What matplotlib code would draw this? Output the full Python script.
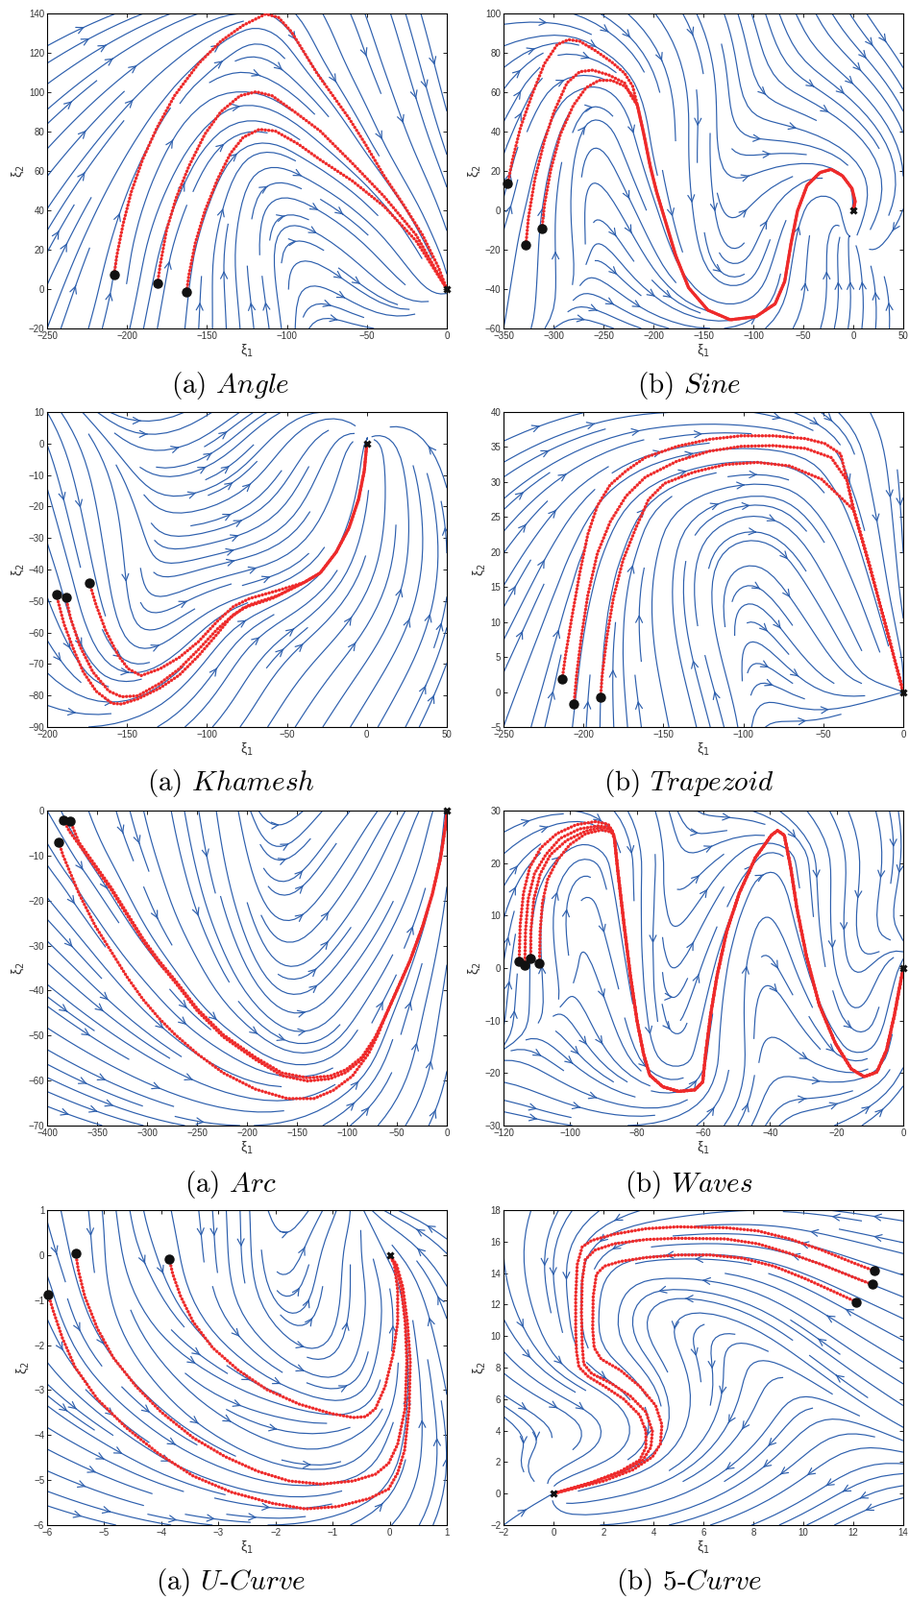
import numpy as np
import matplotlib
matplotlib.use('Agg')
import matplotlib.pyplot as plt

plt.rcParams['font.family'] = ['Liberation Sans', 'DejaVu Sans']
plt.rcParams['mathtext.fontset'] = 'dejavusans'

BLUE = '#2d5fad'
RED = '#ee2a2a'

# ---------------- data (demonstrations) ----------------
# Angle
angle_xlim, angle_ylim = (-250, 0), (-20, 140)
angle_a = [(-208, 7.5), (-206.4, 16.9), (-202.4, 33.2), (-197.3, 49.4), (-190.3, 65.7),
           (-181.3, 81.9), (-170.3, 98.2), (-155.3, 114.5), (-141.3, 125.9), (-127.3, 134.0),
           (-113.3, 139.7), (-105.3, 138.0), (-97.2, 130.7), (-89.2, 120.2), (-81.2, 109.6),
           (-71.2, 98.2), (-61.2, 86.8), (-51.2, 74.0), (-39.2, 57.5), (-27.2, 43.0),
           (-15.2, 27.5), (-5.2, 11.0), (0, 0)]
angle_b = [(-180.9, 2.9), (-179.3, 12.0), (-175.3, 29.9), (-169.3, 46.2), (-161.3, 62.4),
           (-151.3, 78.7), (-141.3, 90.1), (-129.3, 98.2), (-119.3, 100.2), (-109.3, 98.2),
           (-95.3, 90.1), (-79.2, 80.3), (-59.2, 64.0), (-39.2, 47.0), (-19.2, 27.5), (0, 0)]
angle_c = [(-162.7, -1.3), (-161.3, 7.2), (-157.3, 23.4), (-151.3, 39.7), (-143.3, 55.9),
           (-135.3, 68.9), (-127.3, 77.1), (-117.3, 81.1), (-107.3, 80.3), (-93.2, 73.8),
           (-79.2, 65.7), (-59.2, 55.0), (-39.2, 42.0), (-19.2, 24.5), (0, 0)]

# Sine
sine_xlim, sine_ylim = (-350, 50), (-60, 100)
sine_a = [(-345.8, 13.5), (-341, 25.7), (-333, 42), (-321.8, 58.2), (-309, 74.5), (-296.2, 84.2),
          (-285, 86.7), (-273.7, 85.9), (-257.7, 81), (-241.7, 75.3), (-228.8, 69.6), (-220.8, 63.1)]
sine_b = [(-327.6, -17.4), (-325, -3.6), (-318.6, 15.9), (-309, 35.4), (-299.4, 50.1),
          (-286.5, 64.7), (-273.7, 70.4), (-260.9, 71.2), (-244.9, 68.8), (-228.8, 64.7), (-222.4, 58.2)]
sine_c = [(-311.5, -9.4), (-309, 2.9), (-302.6, 20.8), (-293, 38.7), (-280.1, 53.3),
          (-267.3, 62.3), (-254.5, 66.0), (-241.7, 66.0), (-228.8, 63.1), (-220.8, 58.2)]
sine_tail = [(-216, 53.3), (-209.6, 38.7), (-203.2, 22.4), (-196.8, 9.4), (-187.2, -6.8),
             (-177.6, -23.1), (-164.8, -39.3), (-145.5, -50.7), (-123.1, -55.6), (-97.4, -54.0),
             (-78.2, -47.5), (-68.6, -36.1), (-62.2, -16.6), (-55.8, -0.3), (-46.2, 12.7),
             (-33.3, 19.2), (-22.1, 20.8), (-10.9, 17.6), (-1.3, 11.1), (1.9, 4.6), (0, 0)]

# Khamesh
kh_xlim, kh_ylim = (-200, 50), (-90, 10)
kh_a = [(-194.2, -48.0), (-189.4, -57.3), (-183.4, -65.4), (-177.4, -72.5), (-169.4, -78.6),
        (-159.4, -82.5), (-153.4, -82.7), (-143.3, -81.1), (-129.3, -77.6), (-117.3, -73.5),
        (-105.3, -67.4), (-93.3, -60.3), (-85.3, -55.3), (-77.3, -52.2), (-59.3, -49.2)]
kh_b = [(-188.2, -48.9), (-185.4, -55.3), (-179.4, -64.4), (-171.4, -72.5), (-161.4, -78.6),
        (-153.4, -80.4), (-143.3, -80.1), (-129.3, -76.1), (-117.3, -71.5), (-105.3, -65.4),
        (-93.3, -58.8), (-83.3, -54.3), (-73.3, -51.2), (-55.3, -48.2)]
kh_c = [(-173.4, -44.4), (-169.4, -51.2), (-163.4, -59.3), (-155.4, -67.4), (-149.3, -71.5),
        (-141.3, -73.7), (-129.3, -71.5), (-117.3, -67.9), (-105.3, -62.9), (-93.3, -56.3),
        (-83.3, -51.7), (-73.3, -49.2), (-55.3, -46.6)]
kh_tail = [(-39.2, -44.1), (-29.2, -41.1), (-19.2, -34.5), (-11.2, -26.8), (-5.2, -17.7),
           (-1.6, -8.6), (0, 0)]

# Trapezoid
tz_xlim, tz_ylim = (-250, 0), (-5, 40)
tz_a = [(-213.3, 1.8), (-211.3, 5.1), (-207.3, 10.6), (-202.3, 17.0), (-197.3, 22.5),
        (-191.3, 26.6), (-183.3, 29.6), (-173.3, 31.6), (-161.3, 33.5), (-141.3, 35.1),
        (-121.2, 36.1), (-101.2, 36.6), (-81.2, 36.6), (-61.1, 36.2), (-49.1, 35.5),
        (-39.1, 34.0), (-35.5, 30.5)]
tz_b = [(-205.9, -1.7), (-204.3, 2.4), (-201.3, 7.9), (-197.3, 13.8), (-191.3, 19.8),
        (-183.3, 24.3), (-173.3, 28.0), (-161.3, 30.7), (-141.3, 33.0), (-121.2, 34.4),
        (-101.2, 35.1), (-81.2, 35.2), (-61.1, 34.8), (-45.1, 33.5), (-35.1, 30.2)]
tz_c = [(-189.3, -0.8), (-188.3, 2.4), (-185.3, 7.9), (-181.3, 13.4), (-175.3, 18.8),
        (-167.3, 23.4), (-159.3, 27.5), (-149.3, 29.8), (-131.2, 31.4), (-111.2, 32.5),
        (-91.2, 32.8), (-71.1, 32.3), (-51.1, 30.4), (-40, 28.0)]
tz_tail = [(-31.0, 26.0), (-21.0, 18.0), (-11.0, 9.5), (0, 0)]

# Arc
arc_xlim, arc_ylim = (-400, 0), (-70, 0)
arc_a = [(-388.1, -7.1), (-384, -10.0), (-368, -18.5), (-351.9, -25.6), (-335.9, -31.3),
         (-319.9, -37.0), (-303.9, -42.0), (-287.8, -46.2), (-271.8, -49.8), (-249.4, -54.1),
         (-223.7, -58.3), (-191.7, -61.9), (-159.6, -64.0), (-133, -64.0), (-113.8, -62.2),
         (-94.5, -59.0), (-78.5, -54.1), (-68.9, -49.8)]
arc_b = [(-383.3, -2.1), (-378, -4.5), (-368, -7.6), (-351.9, -12.6), (-335.9, -17.6),
         (-319.9, -23.3), (-303.9, -29.0), (-287.8, -33.9), (-271.8, -38.2), (-249.4, -44.6),
         (-223.7, -50.3), (-191.7, -55.3), (-165, -58.9), (-139.4, -60.1), (-117, -59.6),
         (-101, -58.2), (-85, -55.3), (-72.1, -51.0)]
arc_c = [(-376.9, -2.3), (-368, -7.1), (-351.9, -12.1), (-335.9, -17.1), (-319.9, -22.8),
         (-303.9, -28.5), (-287.8, -33.4), (-271.8, -37.7), (-249.4, -44.1), (-223.7, -49.8),
         (-191.7, -54.8), (-165, -58.3), (-139.4, -59.4), (-117, -59.0), (-101, -57.6),
         (-85, -54.8), (-72.1, -50.5)]
arc_tail = [(-62.5, -46.2), (-49.7, -39.8), (-36.9, -33.4), (-24.0, -25.6), (-14.4, -18.5),
            (-6.4, -10.7), (-0.9, -2.8), (0, 0)]

# Waves
wv_xlim, wv_ylim = (-120, 0), (-30, 30)
wv_a = [(-115.3, 1.2), (-115.0, 8.2), (-114.0, 14.3), (-112.1, 19.2), (-108.8, 22.9),
        (-104, 25.6), (-98.2, 27.3), (-92.4, 27.9), (-88.6, 27.4), (-87.1, 25.9)]
wv_b = [(-113.6, 0.6), (-113.4, 7.0), (-112.6, 13.1), (-110.7, 18.0), (-107.3, 21.6),
        (-103, 24.7), (-97.2, 26.5), (-91.5, 27.1), (-88.1, 26.8), (-86.9, 25.3)]
wv_c = [(-111.8, 1.8), (-111.8, 7.0), (-110.9, 13.1), (-109, 17.9), (-105.9, 21.6),
        (-101.1, 24.3), (-95.3, 26.1), (-90.5, 26.8), (-87.6, 26.3)]
wv_d = [(-109.2, 0.9), (-109.0, 7.0), (-108.3, 12.5), (-106.8, 16.8), (-104, 20.4),
        (-100.1, 23.5), (-95.3, 25.6), (-90.5, 26.3), (-87.6, 25.9)]
wv_tail = [(-86.7, 24.7), (-85.7, 18.6), (-83.8, 8.2), (-81.9, -1.5), (-79.9, -10.1),
           (-78.0, -16.2), (-76.1, -20.4), (-72.2, -22.6), (-67.4, -23.5), (-62.6, -23.2),
           (-60.2, -21.7), (-59.3, -16.2), (-57.8, -8.8), (-55.9, -1.5), (-53.0, 7.0),
           (-49.2, 14.3), (-44.4, 21.0), (-39.6, 25.3), (-37.7, 26.2), (-35.7, 25.3),
           (-33.8, 19.2), (-31.9, 11.3), (-29.0, 2.1), (-25.2, -7.0), (-20.4, -14.3),
           (-15.6, -19.2), (-11.7, -20.7), (-7.9, -19.8), (-5.0, -15.6), (-2.6, -8.8),
           (-1.2, -4.0), (0, 0)]

# U-Curve
uc_xlim, uc_ylim = (-6, 1), (-6, 1)
uc_a = [(-5.98, -0.87), (-5.90, -1.21), (-5.73, -1.85), (-5.51, -2.49), (-5.12, -3.20),
        (-4.61, -3.84), (-4.05, -4.41), (-3.44, -4.91), (-2.77, -5.27), (-2.04, -5.52),
        (-1.48, -5.64), (-0.92, -5.59), (-0.36, -5.41), (-0.02, -5.20), (0.14, -4.84),
        (0.26, -4.34), (0.34, -3.41), (0.36, -2.35), (0.31, -1.49), (0.23, -0.71),
        (0.12, -0.21), (0, 0)]
uc_b = [(-5.50, 0.05), (-5.45, -0.35), (-5.34, -0.92), (-5.12, -1.63), (-4.84, -2.28),
        (-4.44, -2.92), (-4.00, -3.49), (-3.44, -4.06), (-2.88, -4.48), (-2.32, -4.80),
        (-1.76, -5.02), (-1.20, -5.09), (-0.64, -5.02), (-0.25, -4.87), (-0.02, -4.63),
        (0.14, -4.20), (0.27, -3.41), (0.30, -2.35), (0.27, -1.49), (0.20, -0.71),
        (0.10, -0.21), (0, 0)]
uc_c = [(-3.86, -0.08), (-3.80, -0.42), (-3.66, -0.92), (-3.44, -1.49), (-3.10, -2.06),
        (-2.65, -2.56), (-2.15, -2.99), (-1.59, -3.31), (-1.03, -3.52), (-0.64, -3.61),
        (-0.42, -3.59), (-0.25, -3.41), (-0.08, -2.92), (0.06, -2.20), (0.14, -1.49),
        (0.14, -0.78), (0.08, -0.21), (0, 0)]

# 5-Curve
fc_xlim, fc_ylim = (-2, 14), (-2, 18)
fc_a = [(12.86, 14.13), (12.02, 14.64), (10.74, 15.46), (9.46, 16.17), (8.18, 16.68),
        (6.90, 16.88), (4.98, 16.94), (3.70, 16.82), (2.43, 16.47), (1.53, 16.07),
        (1.15, 15.66), (0.95, 14.54), (0.89, 12.51), (0.89, 10.47), (0.92, 9.05),
        (1.02, 8.03), (1.40, 7.42), (2.04, 6.81), (2.81, 6.0), (3.45, 4.98), (3.70, 3.96),
        (3.70, 2.94), (3.45, 2.13), (2.68, 1.42), (1.53, 0.71), (0, 0)]
fc_b = [(12.75, 13.28), (12.02, 13.73), (10.74, 14.54), (9.46, 15.25), (8.18, 15.86),
        (6.90, 16.17), (4.98, 16.21), (3.70, 16.13), (2.43, 15.86), (1.66, 15.46),
        (1.27, 14.85), (1.15, 13.52), (1.12, 11.49), (1.15, 9.45), (1.21, 8.23),
        (1.53, 7.62), (2.30, 7.01), (3.07, 6.20), (3.70, 5.18), (3.96, 3.96), (3.90, 2.94),
        (3.58, 2.13), (2.81, 1.42), (1.53, 0.71), (0, 0)]
fc_c = [(12.13, 12.16), (11.38, 12.71), (10.10, 13.63), (8.82, 14.44), (7.54, 14.95),
        (6.26, 15.15), (4.98, 15.15), (3.70, 14.99), (2.68, 14.74), (2.04, 14.44),
        (1.72, 13.93), (1.59, 12.51), (1.57, 10.47), (1.63, 9.25), (1.91, 8.54),
        (2.68, 7.83), (3.45, 6.81), (4.09, 5.59), (4.34, 4.37), (4.28, 3.15), (3.96, 2.33),
        (3.19, 1.52), (2.04, 0.81), (0, 0)]

captions = ["(a) $Angle$", "(b) $Sine$", "(a) $Khamesh$", "(b) $Trapezoid$",
            "(a) $Arc$", "(b) $Waves$", "(a) $U$-$Curve$", "(b) 5-$Curve$"]

panels = [
    (angle_xlim, angle_ylim, 50, 20, [angle_a, angle_b, angle_c]),
    (sine_xlim, sine_ylim, 50, 20, [sine_a + sine_tail, sine_b + sine_tail, sine_c + sine_tail]),
    (kh_xlim, kh_ylim, 50, 10, [kh_a + kh_tail, kh_b + kh_tail, kh_c + kh_tail]),
    (tz_xlim, tz_ylim, 50, 5, [tz_a + tz_tail, tz_b + tz_tail, tz_c + tz_tail]),
    (arc_xlim, arc_ylim, 50, 10, [arc_a + arc_tail, arc_b + arc_tail, arc_c + arc_tail]),
    (wv_xlim, wv_ylim, 20, 10, [wv_a + wv_tail, wv_b + wv_tail, wv_c + wv_tail, wv_d + wv_tail]),
    (uc_xlim, uc_ylim, 1, 1, [uc_a, uc_b, uc_c]),
    (fc_xlim, fc_ylim, 2, 2, [fc_a, fc_b, fc_c]),
]


def learned_field(trajs, xlim, ylim, n=110):
    # smooth field built from the demonstrations: follow the local tangent,
    # get pulled toward the nearby demonstrated points
    lo = np.array([xlim[0], ylim[0]], float)
    span = np.array([xlim[1] - xlim[0], ylim[1] - ylim[0]], float)
    cs, ts = [], []
    for tr in trajs:
        a = (np.asarray(tr, float) - lo) / span
        d = np.diff(a, axis=0)
        d /= np.linalg.norm(d, axis=1, keepdims=True)
        cs.append(a[:-1]); ts.append(d)
        cs.append(a[-1:]); ts.append(np.zeros((1, 2)))
    C = np.vstack(cs)
    T = np.vstack(ts)
    xs = np.linspace(xlim[0], xlim[1], n)
    ys = np.linspace(ylim[0], ylim[1], n)
    X, Y = np.meshgrid(xs, ys)
    P = np.column_stack([(X.ravel() - lo[0]) / span[0], (Y.ravel() - lo[1]) / span[1]])
    D2 = ((P[:, None, :] - C[None, :, :]) ** 2).sum(-1)
    d2min = D2.min(1, keepdims=True)
    s = 0.035 + 0.35 * np.sqrt(d2min)
    W = np.exp(-(D2 - d2min) / (2 * s ** 2))
    W /= W.sum(1, keepdims=True)
    tan = W @ T
    A = W @ C - P
    na = np.linalg.norm(A, axis=1, keepdims=True)
    V = tan + 2.5 * A / (1 + 4 * na)
    U = (V[:, 0] * span[0]).reshape(X.shape)
    Vy = (V[:, 1] * span[1]).reshape(X.shape)
    return xs, ys, U, Vy


fig = plt.figure(figsize=(9.46, 16.66), dpi=100)
W_PX, H_PX = 946, 1666
col_left = [49, 524]
row_top = [14, 429, 844, 1260]
ax_w, ax_h = 416, 328
cap_x = [240, 717]
cap_y = [402, 815, 1233, 1648]

for i, (xlim, ylim, xstep, ystep, trajs) in enumerate(panels):
    r, c = divmod(i, 2)
    ax = fig.add_axes([col_left[c] / W_PX, 1 - (row_top[r] + ax_h) / H_PX, ax_w / W_PX, ax_h / H_PX])
    xs, ys, U, V = learned_field(trajs, xlim, ylim)
    ax.streamplot(xs, ys, U, V, density=1.0, color=BLUE, linewidth=0.85,
                  arrowsize=1.25, arrowstyle='->', minlength=0.15)
    for tr in trajs:
        a = np.asarray(tr, float)
        ax.plot(a[:, 0], a[:, 1], color=RED, lw=2.4, ls=(0, (0.1, 1.0)),
                dash_capstyle='round', zorder=3)
    for tr in trajs:
        ax.plot(tr[0][0], tr[0][1], 'o', color='#111111', ms=6.5, zorder=4, clip_on=False)
    ax.plot(0, 0, 'x', color='#111111', ms=5, mew=2.2, zorder=5, clip_on=False)

    ax.set_xlim(xlim)
    ax.set_ylim(ylim)
    ax.set_xticks(np.arange(xlim[0], xlim[1] + xstep * 0.5, xstep))
    ax.set_yticks(np.arange(ylim[0], ylim[1] + ystep * 0.5, ystep))
    ax.tick_params(direction='in', top=True, right=True, labelsize=7, length=3,
                   width=0.6, labelcolor='#333333', pad=2)
    for sp in ax.spines.values():
        sp.set_linewidth(0.8)
    ax.set_xlabel('ξ$_1$', fontsize=10, labelpad=1, color='#333333')
    ax.set_ylabel('ξ$_2$', fontsize=10, labelpad=2, color='#333333')

    t = fig.text(cap_x[c] / W_PX, 1 - cap_y[r] / H_PX, captions[i], fontsize=21,
                 family='cmr10', ha='center', va='center')
    t.set_math_fontfamily('cm')

fig.savefig('out.png', dpi=100)
